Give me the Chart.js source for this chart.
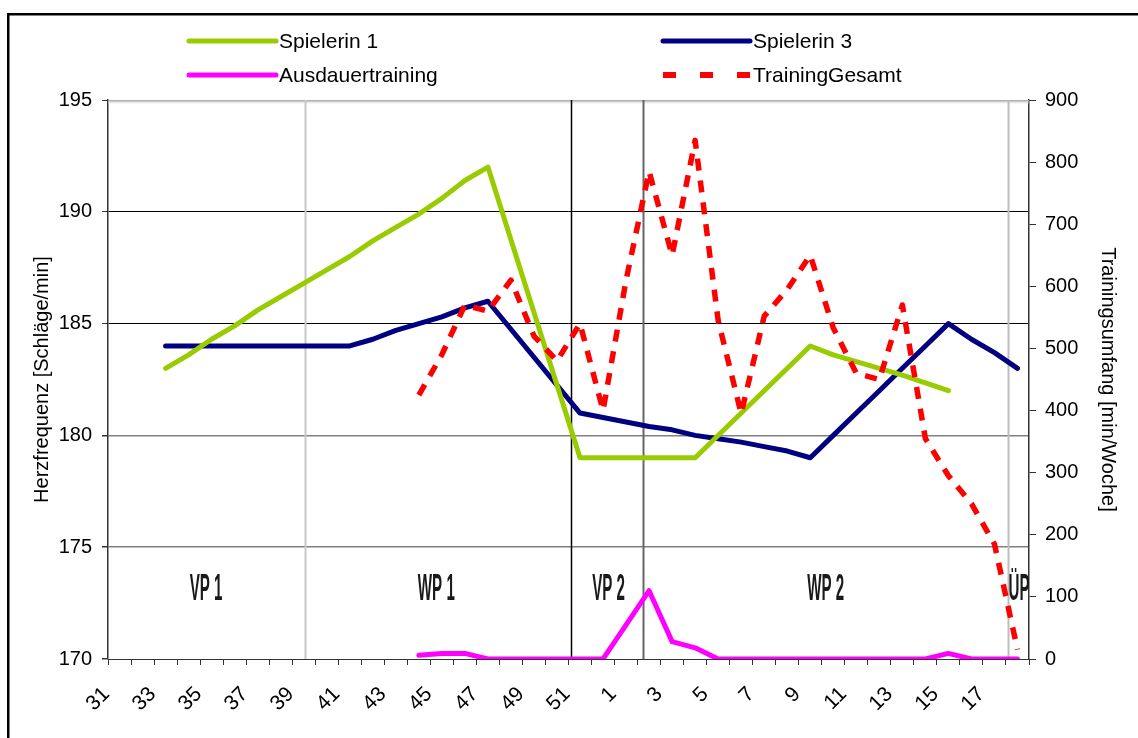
<!DOCTYPE html>
<html lang="de">
<head>
<meta charset="utf-8">
<title>Herzfrequenz und Trainingsumfang</title>
<script src="https://cdn.jsdelivr.net/npm/chart.js@4.4.1/dist/chart.umd.min.js"></script>
<style>
  html, body { margin: 0; padding: 0; background: #fff; }
  #wrap { position: relative; width: 1138px; height: 738px; }
</style>
</head>
<body>
<div id="wrap"><canvas id="chart"></canvas></div>
<script>
// Kalenderwochen 31..52 und 1..18
const WEEKS = ['31','32','33','34','35','36','37','38','39','40','41','42','43','44','45','46','47','48','49','50','51','52',
  '1','2','3','4','5','6','7','8','9','10','11','12','13','14','15','16','17','18'];

// Herzfrequenz (linke Achse)
const SPIELERIN_1 = [null, null, 183, 183.6, 184.3, 184.9, 185.6, 186.2, 186.8, 187.4, 188.0, 188.7, 189.3, 189.9, 190.6, 191.4, 192,
  null, null, null, 179, 179, 179, 179, 179, 179, null, null, null, null, 184, 183.6, 183.3, 183.0, 182.7, 182.35, 182, null, null, null];
const SPIELERIN_3 = [null, null, 184, 184, 184, 184, 184, 184, 184, 184, 184, 184.3, 184.7, 185.0, 185.3, 185.7, 186,
  null, null, null, 181, 180.8, 180.6, 180.4, 180.25, 180.0, 179.85, 179.7, 179.5, 179.3, 179, 180, 181, 182, 183, 184, 185, 184.3, 183.7, 183];

// Trainingsumfang (rechte Achse)
const AUSDAUER = [null, null, null, null, null, null, null, null, null, null, null, null, null, 6, 9, 9, 0, 0, 0, 0, 0, 0,
  55, 110, 28, 18, 0, 0, 0, 0, 0, 0, 0, 0, 0, 0, 9, 0, 0, 0];
const TRAINING_GESAMT = [null, null, null, null, null, null, null, null, null, null, null, null, null, 425, 490, 570, 560, 610, 520, 480, 540, 400,
  610, 785, 650, 835, 545, 395, 552, 595, 650, 533, 460, 450, 570, 355, 295, 250, 185, 15];

const LEFT_TICKS = [170, 175, 180, 185, 190, 195];
const RIGHT_TICKS = [0, 100, 200, 300, 400, 500, 600, 700, 800, 900];

// Trainingsphasen (in Kategorie-Einheiten)
const PHASE_BOUNDS = [8.07, 19.59, 22.75, 38.58];
const PHASE_NAMES = ['VP 1', 'WP 1', 'VP 2', 'WP 2', 'ÜP'];
const PHASE_CENTERS = [3.76, 13.76, 21.24, 30.67, 39.07];
const PHASE_LABEL_LEVEL = 173.1;

const FONT = '"Liberation Sans", Arial, sans-serif';

const phasePlugin = {
  id: 'phases',
  beforeDatasetsDraw(chart) {
    const { ctx, chartArea: a, scales: { x, y } } = chart;
    ctx.save();
    // schattierte Oberkante
    const g = ctx.createLinearGradient(0, a.top, 0, a.top + 5);
    g.addColorStop(0, '#9a9a9a');
    g.addColorStop(1, 'rgba(255,255,255,0)');
    ctx.fillStyle = g;
    ctx.fillRect(a.left, a.top, a.right - a.left, 5);

    const styles = [['#c8c8c8', 2], ['#000', 1.5], ['#666', 2], ['#bdbdbd', 2]];
    PHASE_BOUNDS.forEach((b, i) => {
      const px = Math.round(x.getPixelForValue(b)) + 0.5;
      ctx.strokeStyle = styles[i][0];
      ctx.lineWidth = styles[i][1];
      ctx.beginPath();
      ctx.moveTo(px, a.top);
      ctx.lineTo(px, a.bottom);
      ctx.stroke();
    });

    const py = y.getPixelForValue(PHASE_LABEL_LEVEL);
    ctx.fillStyle = '#1a1a1a';
    ctx.font = 'bold 36px ' + FONT;
    ctx.textAlign = 'center';
    ctx.textBaseline = 'middle';
    ctx.filter = 'blur(0.5px)';
    PHASE_NAMES.forEach((name, i) => {
      const px = x.getPixelForValue(PHASE_CENTERS[i]);
      ctx.save();
      ctx.translate(px, py);
      ctx.scale(0.42, 1);
      ctx.fillText(name, 0, 0);
      ctx.restore();
    });
    ctx.restore();
  },
  afterDraw(chart) {
    const { ctx } = chart;
    ctx.save();
    // Rahmen
    ctx.fillStyle = '#000';
    ctx.fillRect(7, 13, 2.5, 738);
    ctx.fillRect(7, 13, 1131, 2.5);

    // Legende
    const items = [
      { ds: 0, x: 189, y: 41 },
      { ds: 1, x: 663, y: 41 },
      { ds: 2, x: 189, y: 75 },
      { ds: 3, x: 663, y: 75 },
    ];
    ctx.font = '21px ' + FONT;
    ctx.textBaseline = 'middle';
    ctx.textAlign = 'left';
    items.forEach(it => {
      const d = chart.data.datasets[it.ds];
      ctx.strokeStyle = d.borderColor;
      if (d.borderDash) {
        ctx.lineWidth = 6;
        ctx.lineCap = 'butt';
        ctx.setLineDash([13, 24]);
      } else {
        ctx.lineWidth = 5;
        ctx.lineCap = 'round';
        ctx.setLineDash([]);
      }
      ctx.beginPath();
      ctx.moveTo(it.x, it.y);
      ctx.lineTo(it.x + 87, it.y);
      ctx.stroke();
      ctx.setLineDash([]);
      ctx.fillStyle = '#000';
      ctx.fillText(d.label, it.x + 90, it.y + 1);
    });
    ctx.restore();
  }
};

const leftGridColor = c => {
  const v = c.tick && c.tick.value;
  if (v === 190 || v === 185) return '#000';
  if (v === 180 || v === 175) return '#808080';
  return 'rgba(0,0,0,0)';
};

new Chart(document.getElementById('chart').getContext('2d'), {
  type: 'line',
  data: {
    labels: WEEKS,
    datasets: [
      { label: 'Spielerin 1', data: SPIELERIN_1, borderColor: '#99CC00', borderWidth: 5, yAxisID: 'y', order: 3 },
      { label: 'Spielerin 3', data: SPIELERIN_3, borderColor: '#000080', borderWidth: 5, yAxisID: 'y', order: 4 },
      { label: 'Ausdauertraining', data: AUSDAUER, borderColor: '#FF00FF', borderWidth: 5, yAxisID: 'y1', order: 2 },
      { label: 'TrainingGesamt', data: TRAINING_GESAMT, borderColor: '#FF0000', borderWidth: 5.5, borderDash: [12, 10],
        borderCapStyle: 'butt', borderJoinStyle: 'round', yAxisID: 'y1', order: 1 },
    ],
  },
  options: {
    responsive: true,
    maintainAspectRatio: false,
    animation: false,
    layout: { padding: { top: 100, left: 0, right: 0, bottom: 0 } },
    elements: {
      point: { radius: 0, hoverRadius: 0 },
      line: { tension: 0, fill: false, borderCapStyle: 'round', borderJoinStyle: 'round' },
    },
    datasets: { line: { spanGaps: true } },
    plugins: { legend: { display: false }, tooltip: { enabled: false } },
    scales: {
      x: {
        type: 'category',
        offset: true,
        afterFit: s => { s.height = 79; },
        grid: { display: true, drawOnChartArea: false, drawTicks: true, tickLength: 6, offset: true, tickColor: '#333' },
        border: { display: true, color: '#333', width: 1 },
        ticks: {
          autoSkip: false, maxRotation: 45, minRotation: 45, labelOffset: -13, padding: 17,
          color: '#000', font: { family: FONT, size: 21 },
          callback: (v, i) => (i % 2 === 0 ? WEEKS[i] : ''),
        },
      },
      y: {
        position: 'left',
        min: LEFT_TICKS[0], max: LEFT_TICKS[LEFT_TICKS.length - 1],
        afterFit: s => { s.width = 108; },
        afterBuildTicks: s => { s.ticks = LEFT_TICKS.map(v => ({ value: v })); },
        grid: { color: leftGridColor, lineWidth: c => (c.tick && c.tick.value <= 180 ? 1.5 : 1), tickLength: 6, tickColor: '#333' },
        border: { display: true, color: '#333', width: 1.5 },
        ticks: { color: '#000', padding: 10, font: { family: FONT, size: 20 } },
        title: { display: true, text: 'Herzfrequenz [Schläge/min]', color: '#000', font: { family: FONT, size: 20 }, padding: { top: 30 } },
      },
      y1: {
        position: 'right',
        min: RIGHT_TICKS[0], max: RIGHT_TICKS[RIGHT_TICKS.length - 1],
        afterFit: s => { s.width = 109; },
        afterBuildTicks: s => { s.ticks = RIGHT_TICKS.map(v => ({ value: v })); },
        grid: { drawOnChartArea: false, tickLength: 7, tickColor: '#333' },
        border: { display: true, color: '#333', width: 1.5 },
        ticks: { color: '#000', padding: 9, font: { family: FONT, size: 20 } },
        title: { display: true, text: 'Trainingsumfang [min/Woche]', color: '#000', font: { family: FONT, size: 20 }, padding: { top: 18 } },
      },
    },
  },
  plugins: [phasePlugin],
});
</script>
</body>
</html>
